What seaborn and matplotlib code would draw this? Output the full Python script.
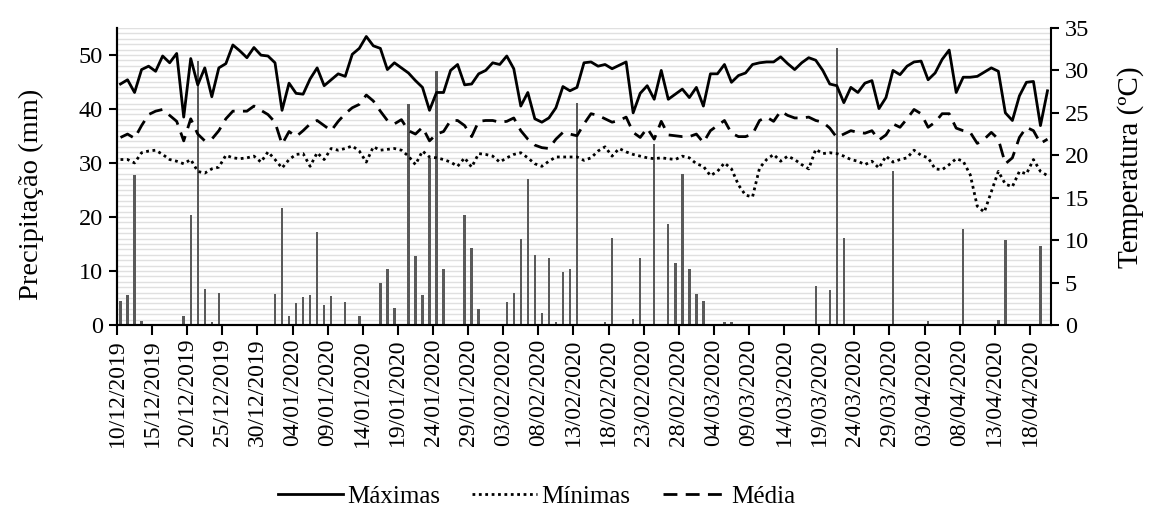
import numpy as np
import pandas as pd
import matplotlib
matplotlib.use("Agg")
import matplotlib.pyplot as plt
from matplotlib.ticker import MultipleLocator, FixedLocator
import seaborn as sns

# ---------------- data ----------------
start_date = "2019-12-10"
n_days = 133
dates = pd.date_range(start_date, periods=n_days, freq="D")

precip = [4.5, 5.6, 27.8, 0.7, 0, 0, 0, 0, 0, 1.7,
          20.4, 48.8, 6.6, 0.6, 6.0, 0, 0, 0, 0, 0,
          0, 0, 5.7, 21.6, 1.7, 4.0, 5.1, 5.6, 17.3, 3.7,
          5.3, 0, 4.2, 0, 1.7, 0, 0, 7.7, 10.4, 3.1,
          0, 40.9, 12.8, 5.6, 31.0, 47.1, 10.4, 0, 0, 20.4,
          14.3, 3.0, 0, 0, 0, 4.2, 6.0, 16.0, 27.1, 12.9,
          2.2, 12.4, 0.6, 9.8, 10.3, 41.1, 0, 0, 0, 0.6,
          16.2, 0, 0, 1.2, 12.4, 0, 33.5, 0, 18.7, 11.5,
          27.9, 10.4, 5.7, 4.5, 0, 0, 0.6, 0.6, 0, 0,
          0, 0, 0, 0, 0, 0, 0, 0, 0, 7.3,
          0, 6.4, 51.3, 16.1, 0, 0, 0, 0, 0, 0,
          28.6, 0, 0, 0, 0, 0.7, 0, 0, 0, 0,
          17.7, 0, 0, 0, 0, 0.9, 15.8, 0, 0, 0,
          0, 14.6, 0]

tmax = [28.4, 28.9, 27.4, 30.1, 30.5, 29.9, 31.7, 30.9, 32.0, 24.5,
        31.4, 28.3, 30.3, 26.9, 30.3, 30.8, 33.0, 32.3, 31.5, 32.7,
        31.8, 31.7, 30.9, 25.3, 28.5, 27.3, 27.2, 29.0, 30.3, 28.2,
        28.9, 29.6, 29.3, 31.9, 32.6, 34.0, 32.9, 32.6, 30.1, 30.9,
        30.3, 29.7, 28.8, 28.0, 25.3, 27.4, 27.4, 30.0, 30.7, 28.3,
        28.4, 29.6, 30.0, 30.9, 30.7, 31.7, 30.2, 25.8, 27.4, 24.3,
        23.9, 24.4, 25.6, 28.1, 27.6, 28.0, 30.9, 31.0, 30.5, 30.7,
        30.2, 30.6, 31.0, 25.0, 27.3, 28.2, 26.6, 30.0, 26.6, 27.2,
        27.8, 26.8, 28.0, 25.8, 29.6, 29.6, 30.7, 28.6, 29.4, 29.7,
        30.7, 30.9, 31.0, 31.0, 31.6, 30.8, 30.1, 30.9, 31.5, 31.2,
        30.0, 28.4, 28.2, 26.2, 28.0, 27.4, 28.5, 28.8, 25.5, 26.8,
        30.0, 29.5, 30.5, 31.0, 31.1, 28.9, 29.7, 31.3, 32.4, 27.4,
        29.2, 29.2, 29.3, 29.8, 30.3, 29.9, 25.0, 24.1, 27.0, 28.6,
        28.7, 23.5, 27.6]

tmed = [22.1, 22.5, 22.0, 23.5, 24.8, 25.2, 25.4, 24.7, 24.0, 21.7,
        24.3, 22.5, 21.7, 21.9, 22.9, 24.3, 25.2, 25.2, 25.2, 25.8,
        25.3, 24.8, 23.9, 21.3, 22.8, 22.2, 22.9, 23.7, 24.1, 23.5,
        22.9, 24.0, 24.9, 25.6, 26.0, 27.1, 26.4, 25.2, 24.1, 23.7,
        24.2, 22.9, 22.5, 23.3, 21.7, 22.5, 22.8, 24.1, 24.1, 23.5,
        22.2, 24.0, 24.1, 24.1, 23.9, 24.0, 24.4, 22.9, 21.9, 21.2,
        20.9, 20.8, 21.9, 22.7, 22.5, 22.3, 23.7, 24.9, 24.7, 24.3,
        23.9, 24.1, 24.5, 22.7, 22.1, 23.2, 21.9, 24.0, 22.4, 22.3,
        22.2, 22.2, 22.5, 21.5, 22.9, 23.5, 24.1, 22.6, 22.2, 22.2,
        22.5, 24.1, 24.5, 24.0, 25.2, 24.7, 24.4, 24.4, 24.5, 24.1,
        23.9, 23.2, 22.1, 22.5, 22.9, 22.7, 22.6, 22.9, 21.8, 22.4,
        23.7, 23.3, 24.3, 25.4, 24.9, 23.3, 23.9, 24.9, 24.9, 23.2,
        22.9, 22.7, 21.4, 21.9, 22.7, 21.9, 19.0, 19.7, 22.1, 23.3,
        22.9, 21.4, 21.9]

tmin = [19.5, 19.5, 19.1, 20.3, 20.5, 20.6, 20.1, 19.5, 19.3, 19.0,
        19.5, 18.1, 17.9, 18.4, 18.6, 20.0, 19.7, 19.6, 19.7, 19.9,
        19.2, 20.4, 19.5, 18.5, 19.5, 20.1, 20.2, 18.7, 20.3, 19.5,
        20.8, 20.6, 20.8, 21.1, 20.5, 19.2, 21.0, 20.6, 20.7, 20.8,
        20.6, 19.9, 18.9, 20.5, 19.8, 19.7, 19.5, 19.2, 18.7, 19.7,
        18.6, 20.2, 20.1, 19.9, 19.2, 19.7, 20.1, 20.3, 19.7, 19.0,
        18.7, 19.3, 19.8, 19.8, 19.8, 19.8, 19.4, 19.7, 20.5, 21.0,
        19.9, 20.8, 20.4, 20.1, 19.9, 19.7, 19.6, 19.7, 19.6, 19.5,
        19.9, 19.7, 19.0, 18.7, 17.6, 18.1, 19.1, 18.4, 16.5, 15.3,
        15.1, 18.5, 19.5, 20.1, 19.3, 19.9, 19.5, 18.9, 18.4, 20.7,
        20.2, 20.3, 20.2, 19.9, 19.5, 19.3, 18.9, 19.3, 18.5, 19.9,
        19.2, 19.5, 19.7, 20.6, 20.0, 19.7, 18.4, 18.3, 18.9, 19.6,
        19.3, 17.7, 14.0, 13.3, 15.7, 18.1, 16.6, 16.3, 18.1, 17.8,
        19.5, 18.1, 17.6]

tick_step = 5
tick_days = list(range(0, n_days, tick_step))
tick_labels = [dates[d].strftime("%d/%m/%Y") for d in tick_days]

series_labels = ["Máximas", "Mínimas", "Média"]
left_label = "Precipitação (mm)"
right_label = "Temperatura (ºC)"

# ---------------- plot ----------------
plt.rcParams["font.family"] = ["Liberation Serif", "DejaVu Serif"]

pos = np.arange(n_days) + 0.5
df = pd.DataFrame({"pos": pos, "precip": precip, "tmax": tmax,
                   "tmed": tmed, "tmin": tmin})

fig = plt.figure(figsize=(11.57, 5.22), dpi=100)
ax = fig.add_axes([117 / 1157, 1 - 325 / 522, (1051 - 117) / 1157, (325 - 28) / 522])

ax.set_axisbelow(True)
ax.yaxis.set_major_locator(MultipleLocator(10))
ax.yaxis.set_minor_locator(MultipleLocator(1))
ax.grid(True, which="both", axis="y", color="#e0e0e0", linewidth=1.0)
ax.grid(False, axis="x")

sns.barplot(data=df, x="pos", y="precip", native_scale=True, width=0.35,
            color="#5a5a5a", saturation=1, errorbar=None, ax=ax, zorder=2)

ax.set_xlim(0, n_days)
ax.set_ylim(0, 55)
ax.set_yticks(range(0, 51, 10))
ax.xaxis.set_major_locator(FixedLocator(tick_days))
ax.set_xticklabels(tick_labels, rotation=90)
ax.set_xlabel("")
ax.set_ylabel(left_label, fontsize=20.5)
ax.yaxis.set_label_coords(-0.078, 0.44)

ax2 = ax.twinx()
sns.lineplot(data=df, x="pos", y="tmax", ax=ax2, color="black", linewidth=2.0,
             label=series_labels[0])
sns.lineplot(data=df, x="pos", y="tmin", ax=ax2, color="black", linewidth=2.0,
             linestyle=(0, (1, 1.3)), label=series_labels[1])
sns.lineplot(data=df, x="pos", y="tmed", ax=ax2, color="black", linewidth=2.0,
             linestyle=(0, (5, 3)), label=series_labels[2])
if ax2.get_legend() is not None:
    ax2.get_legend().remove()
ax2.set_ylim(0, 35)
ax2.set_yticks(range(0, 36, 5))
ax2.set_xlim(0, n_days)
ax2.set_xlabel("")
ax2.set_ylabel(right_label, fontsize=21)
ax2.yaxis.set_label_coords(1.071, 0.53)

for a in (ax, ax2):
    a.spines["top"].set_visible(False)
    for s in ("left", "right", "bottom"):
        a.spines[s].set_linewidth(1.5)
        a.spines[s].set_color("black")
ax.spines["right"].set_visible(False)

ax.tick_params(axis="y", which="major", direction="out", length=6, width=1.5,
               labelsize=17.5, pad=4)
ax.tick_params(axis="y", which="minor", length=0)
ax.tick_params(axis="x", direction="out", length=7, width=1.5, labelsize=17, pad=3)
ax2.tick_params(axis="y", direction="out", length=6, width=1.5, labelsize=17.5, pad=4)

handles = ax2.get_lines()[:3]
fig.legend(handles, series_labels, loc="center", bbox_to_anchor=(0.464, 0.048),
           ncol=3, frameon=False, fontsize=18, handlelength=2.6,
           handletextpad=0.15, columnspacing=1.3)

fig.savefig("out.png", dpi=100)
